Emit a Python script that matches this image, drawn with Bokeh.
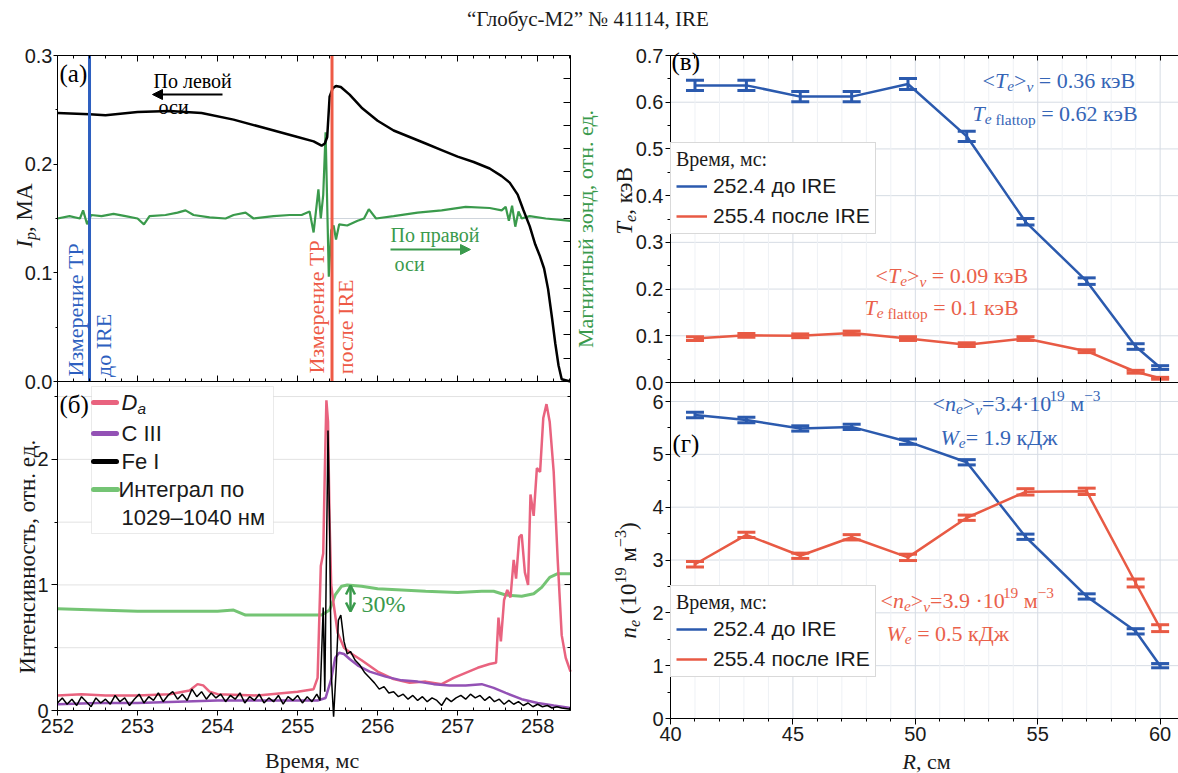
import math
from bokeh.plotting import figure
from bokeh.models import (Range1d, LinearAxis, FixedTicker, Label, Arrow, NormalHead, OpenHead,
                          TeeHead, Whisker, ColumnDataSource, BoxAnnotation, Legend, LegendItem,
                          PrintfTickFormatter, BasicTickFormatter)
from bokeh.layouts import column, row
from bokeh.embed import file_html
from bokeh.resources import INLINE

# ====================== DATA ======================
title_text = "“Глобус-М2”  № 41114, IRE"

# (a) plasma current I_p, MA
ip_time = [252.0, 252.4, 252.6, 253.0, 253.4, 253.8, 254.2, 254.6, 255.0, 255.2, 255.3, 255.34,
           255.37, 255.40, 255.44, 255.48, 255.54, 255.65, 255.8, 256.0, 256.2, 256.4, 256.6,
           256.8, 257.0, 257.2, 257.4, 257.55, 257.65, 257.75, 257.82, 257.9, 257.97, 258.03,
           258.08, 258.13, 258.18, 258.22, 258.26, 258.3, 258.41]
ip_val = [0.247, 0.246, 0.245, 0.248, 0.249, 0.247, 0.241, 0.233, 0.225, 0.221, 0.217, 0.219,
          0.225, 0.262, 0.270, 0.272, 0.271, 0.264, 0.252, 0.240, 0.231, 0.225, 0.219,
          0.213, 0.207, 0.202, 0.196, 0.189, 0.183, 0.172, 0.158, 0.143, 0.126, 0.115,
          0.104, 0.085, 0.058, 0.035, 0.015, 0.002, 0.000]

# (a) magnetic probe, rel. units
probe_time = [252.00, 252.15, 252.28, 252.32, 252.37, 252.42, 252.55, 252.70, 252.85, 253.00,
              253.08, 253.15, 253.35, 253.50, 253.60, 253.70, 253.90, 254.10, 254.20, 254.35,
              254.45, 254.70, 254.90, 255.05, 255.15, 255.20, 255.26, 255.29, 255.32, 255.35,
              255.39, 255.42, 255.45, 255.48, 255.52, 255.62, 255.75, 255.83, 255.89, 255.98,
              256.20, 256.50, 256.80, 257.10, 257.40, 257.55, 257.60, 257.64, 257.68, 257.72,
              257.76, 257.80, 257.90, 258.10, 258.41]
probe_val = [0.0, 0.1, 0.0, 0.35, -0.25, 0.15, 0.1, 0.2, 0.1, 0.0,
             -0.25, 0.1, 0.15, 0.25, 0.35, 0.15, 0.05, 0.0, 0.15, 0.25,
             0.0, 0.1, 0.15, 0.15, 0.3, -0.6, 1.25, 0.0, 1.0, 3.7,
             -2.5, -0.5, -0.3, -0.9, -0.25, -0.3, -0.1, 0.0, 0.4, 0.0,
             0.1, 0.25, 0.35, 0.5, 0.45, 0.35, 0.5, -0.1, 0.55, -0.35,
             0.3, 0.0, 0.1, 0.0, -0.1]

tr_times = [252.4, 255.43]          # Thomson measurement instants
tr_colors = ["#2d5fc0", "#ee5a46"]

# (b) spectral intensities, rel. units
da_time = [252.0, 252.3, 252.6, 253.0, 253.4, 253.65, 253.75, 253.82, 253.9, 254.0, 254.5,
           255.0, 255.2, 255.25, 255.29, 255.32, 255.34, 255.36, 255.38, 255.40, 255.42,
           255.45, 255.5, 255.58, 255.68, 255.8, 256.0, 256.2, 256.4, 256.6, 256.8, 256.95,
           257.1, 257.25, 257.4, 257.48, 257.51, 257.54, 257.58, 257.62, 257.66, 257.7,
           257.73, 257.77, 257.8, 257.84, 257.88, 257.91, 257.95, 257.99, 258.03, 258.07,
           258.11, 258.15, 258.2, 258.25, 258.3, 258.35, 258.41]
da_val = [0.12, 0.13, 0.12, 0.12, 0.13, 0.16, 0.21, 0.20, 0.15, 0.13, 0.12,
          0.15, 0.17, 0.26, 1.15, 1.25, 1.9, 2.47, 2.3, 1.5, 1.0,
          0.85, 0.62, 0.50, 0.45, 0.40, 0.31, 0.25, 0.22, 0.23, 0.21, 0.26,
          0.30, 0.34, 0.37, 0.38, 0.74, 0.55, 0.88, 0.96, 0.90, 1.2,
          1.05, 1.38, 1.4, 1.1, 1.0, 1.72, 1.55, 1.93, 1.9, 2.33,
          2.44, 2.3, 1.9, 1.2, 0.6, 0.42, 0.31]

c3_time = [252.0, 252.5, 253.0, 253.5, 254.0, 254.5, 255.0, 255.25, 255.35, 255.42, 255.47,
           255.52, 255.58, 255.65, 255.75, 255.9, 256.1, 256.3, 256.5, 256.7, 256.9, 257.1,
           257.3, 257.45, 257.6, 257.8, 258.0, 258.2, 258.41]
c3_val = [0.05, 0.06, 0.06, 0.07, 0.08, 0.08, 0.08, 0.08, 0.10, 0.25, 0.42,
          0.46, 0.45, 0.41, 0.36, 0.31, 0.27, 0.24, 0.23, 0.21, 0.20, 0.20,
          0.21, 0.18, 0.14, 0.09, 0.06, 0.04, 0.02]

fe_time = [252.00, 252.06, 252.12, 252.18, 252.24, 252.30, 252.36, 252.42, 252.48, 252.54,
           252.60, 252.66, 252.72, 252.78, 252.84, 252.90, 252.96, 253.02, 253.08, 253.14,
           253.20, 253.26, 253.32, 253.38, 253.44, 253.50, 253.56, 253.62, 253.68, 253.74,
           253.80, 253.86, 253.92, 253.98, 254.04, 254.10, 254.16, 254.22, 254.28, 254.34,
           254.40, 254.46, 254.52, 254.58, 254.64, 254.70, 254.76, 254.82, 254.88, 254.94,
           255.00, 255.06, 255.12, 255.18, 255.24, 255.28, 255.30, 255.32, 255.34, 255.36,
           255.38, 255.40, 255.42, 255.45, 255.48, 255.51, 255.54, 255.58, 255.62, 255.66,
           255.72, 255.78, 255.84, 255.90, 255.96, 256.02, 256.08, 256.14, 256.20, 256.26,
           256.32, 256.38, 256.44, 256.50, 256.56, 256.62, 256.68, 256.74, 256.80, 256.86,
           256.92, 256.98, 257.04, 257.10, 257.16, 257.22, 257.28, 257.34, 257.40, 257.46,
           257.52, 257.58, 257.64, 257.70, 257.76, 257.82, 257.88, 257.94, 258.00, 258.06,
           258.12, 258.18, 258.24, 258.30, 258.41]
fe_val = [0.06, 0.10, 0.05, 0.09, 0.04, 0.11, 0.07, 0.03, 0.10, 0.06,
          0.09, 0.05, 0.12, 0.07, 0.10, 0.04, 0.09, 0.13, 0.06, 0.11,
          0.08, 0.14, 0.07, 0.12, 0.15, 0.09, 0.13, 0.08, 0.17, 0.11,
          0.15, 0.09, 0.14, 0.10, 0.13, 0.07, 0.12, 0.09, 0.14, 0.06,
          0.11, 0.08, 0.13, 0.06, 0.10, 0.07, 0.12, 0.05, 0.11, 0.08,
          0.12, 0.06, 0.11, 0.07, 0.13, 0.08, 0.45, 0.82, 0.15, 1.2,
          2.23, 1.5, 0.3, -0.05, 0.3, 0.72, 0.76, 0.55, 0.45, 0.47,
          0.40, 0.36, 0.30, 0.26, 0.22, 0.17, 0.19, 0.14, 0.15, 0.11,
          0.13, 0.09, 0.12, 0.08, 0.11, 0.07, 0.10, 0.08, 0.04, 0.10,
          0.07, 0.10, 0.12, 0.09, 0.13, 0.10, 0.12, 0.08, 0.11, 0.07,
          0.09, 0.05, 0.08, 0.05, 0.07, 0.04, 0.06, 0.03, 0.05, 0.03,
          0.04, 0.02, 0.03, 0.02, 0.01]

int_time = [252.0, 252.5, 253.0, 253.5, 254.0, 254.2, 254.35, 254.6, 255.0, 255.3, 255.4,
            255.47, 255.55, 255.62, 255.8, 256.0, 256.3, 256.6, 257.0, 257.3, 257.45, 257.6,
            257.8, 257.95, 258.05, 258.15, 258.25, 258.41]
int_val = [0.81, 0.80, 0.79, 0.79, 0.79, 0.80, 0.76, 0.76, 0.76, 0.76, 0.80,
           0.92, 0.99, 1.00, 0.99, 0.97, 0.96, 0.95, 0.94, 0.95, 0.95, 0.92,
           0.91, 0.93, 0.98, 1.06, 1.09, 1.09]

# (v), (g) Thomson profiles
R_cm = [41.0, 43.1, 45.3, 47.4, 49.7, 52.1, 54.5, 57.0, 59.0, 60.0]
te_before = [0.636, 0.636, 0.612, 0.612, 0.639, 0.527, 0.344, 0.217, 0.077, 0.032]
te_before_err = [0.011, 0.011, 0.011, 0.011, 0.012, 0.011, 0.007, 0.007, 0.006, 0.004]
te_after = [0.094, 0.101, 0.100, 0.106, 0.094, 0.081, 0.094, 0.067, 0.023, 0.009]
te_after_err = [0.004, 0.004, 0.004, 0.004, 0.004, 0.004, 0.004, 0.003, 0.003, 0.002]
ne_before = [5.745, 5.65, 5.49, 5.52, 5.24, 4.85, 3.44, 2.31, 1.65, 1.00]
ne_before_err = [0.05, 0.05, 0.05, 0.05, 0.05, 0.05, 0.05, 0.05, 0.05, 0.04]
ne_after = [2.92, 3.475, 3.08, 3.43, 3.05, 3.80, 4.29, 4.30, 2.565, 1.71]
ne_after_err = [0.05, 0.05, 0.05, 0.05, 0.06, 0.05, 0.06, 0.06, 0.075, 0.065]
series_labels = ["252.4 до IRE", "255.4 после IRE"]

# tick values
t_major = [252, 253, 254, 255, 256, 257, 258]
t_minor = [round(252 + 0.2 * k, 1) for k in range(1, 33) if k % 5]
ip_major = [0.0, 0.1, 0.2, 0.3]
ip_minor = [0.05, 0.15, 0.25]
probe_ticks = list(range(-7, 8))
b_major = [0, 1, 2]
b_minor = [0.5, 1.5, 2.5]
te_major = [0.0, 0.1, 0.2, 0.3, 0.4, 0.5, 0.6, 0.7]
te_minor = [0.05, 0.15, 0.25, 0.35, 0.45, 0.55, 0.65]
ne_major = [0, 1, 2, 3, 4, 5, 6]
ne_minor = [0.5, 1.5, 2.5, 3.5, 4.5, 5.5]
r_major = [40, 45, 50, 55, 60]
r_minor = [k for k in range(41, 61) if k % 5]

# ====================== STYLE ======================
SERIF = "Liberation Serif"
SANS = "Liberation Sans"
BLUE = "#2b5aae"
RED = "#e85a44"
BLUE_TXT = "#3565b6"
RED_TXT = "#ea614b"
GREEN_D = "#3a9a4c"
GREEN_L = "#74c474"
PINK = "#e9637f"
PURPLE = "#9351b5"
INK = "#1a1a1a"
GRID = "#d6dce4"
GRID_MINOR = "#eef1f5"


def span_range(box_a, box_b, v_a, v_b, fig_a, fig_b):
    """Range whose values v_a..v_b fall on pixels box_a..box_b of a canvas fig_a..fig_b."""
    s = (box_b - box_a) / (v_b - v_a)
    return Range1d(v_a - (box_a - fig_a) / s, v_b + (fig_b - box_b) / s)


# left canvas: page x 0..600, y 45..773 ; right canvas: page x 600..1178, y 45..773
GL = dict(l=0, r=600, t=45, b=773)
GR = dict(l=600, r=1178, t=45, b=773)

XL = span_range(57, 570, 252.0, 258.41, 0, 600)
YL_b = span_range(773 - 710, 773 - 381, 0.0, 2.62, 0, 728)      # bottom-up pixels
YL_ip = span_range(773 - 381, 773 - 55, 0.0, 0.3, 0, 728)
YL_probe = span_range(773 - 381, 773 - 55, -7.0, 7.0, 0, 728)
XR = span_range(670, 1178, 40.0, 60.75, 600, 1178)
YR_ne = span_range(773 - 718, 773 - 382, 0.0, 6.36, 0, 728)
YR_te = span_range(773 - 382, 773 - 55, 0.0, 0.7, 0, 728)
GL["x"], GL["y"] = XL, YL_b
GR["x"], GR["y"] = XR, YR_ne


def at(G, X, Y):
    xr, yr = G["x"], G["y"]
    x = xr.start + (X - G["l"]) / (G["r"] - G["l"]) * (xr.end - xr.start)
    y = yr.end - (Y - G["t"]) / (G["b"] - G["t"]) * (yr.end - yr.start)
    return x, y


REG_W = {'0': .5, '1': .5, '2': .5, '3': .5, '4': .5, '5': .5, '6': .5, '7': .5, '8': .5, '9': .5,
         '.': .25, ',': .25, ' ': .25, '=': .564, '<': .564, '>': .564, '·': .25, '(': .333,
         ')': .333, '−': .564, '-': .333, '%': .833, '–': .5,
         'a': .444, 'c': .444, 'e': .444, 'f': .333, 'i': .278, 'l': .278, 'o': .5, 'p': .5,
         't': .278, 'v': .5, 'n': .5, 'r': .333,
         'A': .722, 'D': .722, 'E': .611, 'I': .333, 'R': .667, 'T': .611, 'W': .944, 'P': .556,
         'к': .5, 'э': .44, 'В': .667, 'Д': .69, 'ж': .72, 'м': .63, 'с': .444, 'А': .722,
         'М': .889, 'р': .5, 'е': .444, 'я': .5, 'о': .5, 'т': .45, 'н': .5, 'д': .5,
         'Т': .611, 'Р': .556, 'И': .722, 'з': .4, 'и': .5, 'п': .5, 'л': .5, 'г': .41,
         'ы': .7, 'й': .5, 'ь': .45, 'в': .47, 'ц': .5, 'а': .444, 'б': .5, 'ф': .65}
IT_W = {'T': .556, 'e': .444, 'v': .444, 'n': .5, 'p': .5, 'W': .833, 'I': .333, 'R': .611}
SANS_W = {'D': .722, 'a': .556}


def text_w(s, italic, font):
    if font == SANS:
        return sum(SANS_W.get(c, .556) for c in s)
    return sum((IT_W.get(c) if italic and c in IT_W else REG_W.get(c, .5)) for c in s)


def rich(p, G, X, Y, segs, size, color, font=SERIF, angle=0.0, align="left", bg=None):
    """segs: list of (text, italic, scale, rise_em). (X, Y): page pixels of the text centre line."""
    x, y = at(G, X, Y)
    widths = [text_w(t, it, font) * size * sc for (t, it, sc, rise) in segs]
    total = sum(widths)
    pos = {"left": 0.0, "center": -total / 2.0, "right": -total}[align]
    specs = []
    for (t, it, sc, rise), w in zip(segs, widths):
        lead = len(t) - len(t.lstrip(" "))
        along = pos + lead * 0.25 * size * sc
        perp = rise * size
        xo, yo = (along, perp) if angle == 0 else (-perp, along)
        specs.append((t.strip(" "), it, sc, xo, yo))
        pos += w
    for bgpass in ([True] if bg else []) + [False]:
        for (t, it, sc, xo, yo) in specs:
            if not t:
                continue
            lab = Label(x=x, y=y, x_offset=xo, y_offset=yo, text=t, text_font=font,
                        text_font_size=f"{size * sc:.1f}px",
                        text_font_style="italic" if it else "normal",
                        text_color=color, text_align="left", text_baseline="middle",
                        angle=angle)
            if bgpass:
                lab.text_alpha = 0
                lab.background_fill_color = bg
                lab.background_fill_alpha = 1
            p.add_layout(lab)


def seg(t, it=False, sc=1.0, rise=0.0):
    return (t, it, sc, rise)


SUB = -0.25
SUP = 0.33


def axis(p, side, fixed, bounds, majors, minors, labels=True, maj=(0, 5), mnr=(0, 3),
         standoff=3, fmt=None, **rn):
    """maj/mnr = (tick_in, tick_out)."""
    def common(a):
        a.axis_line_color = "black"
        a.major_tick_line_color = "black"
        a.minor_tick_line_color = "black"
        a.major_label_text_font = SANS
        a.major_label_text_font_size = "20px"
        a.major_label_text_color = INK
        a.major_label_standoff = standoff
    if labels:
        a = LinearAxis(fixed_location=fixed, bounds=bounds,
                       ticker=FixedTicker(ticks=majors, minor_ticks=minors),
                       formatter=fmt or BasicTickFormatter(), **rn)
        common(a)
        a.major_tick_in, a.major_tick_out = maj
        a.minor_tick_in, a.minor_tick_out = mnr
        p.add_layout(a, side)
    else:
        for k, (tk, ln) in enumerate([(majors, maj), (minors, mnr)]):
            a = LinearAxis(fixed_location=fixed, bounds=bounds,
                           ticker=FixedTicker(ticks=[], minor_ticks=tk), **rn)
            common(a)
            a.major_tick_in, a.major_tick_out = 0, 0
            a.minor_tick_in, a.minor_tick_out = ln
            if k:
                a.axis_line_color = None
            p.add_layout(a, side)


def canvas(w, h, xr, yr):
    p = figure(width=w, height=h, x_range=xr, y_range=yr, output_backend="svg",
               toolbar_location=None, x_axis_location=None, y_axis_location=None,
               min_border=0)
    p.outline_line_color = None
    p.background_fill_color = "white"
    p.border_fill_color = "white"
    p.grid.visible = False
    return p


def gridlines(p, xs0, xs1, ys, color, **rn):
    r = p.segment(x0=[xs0] * len(ys), x1=[xs1] * len(ys), y0=ys, y1=ys, line_color=color,
                  line_width=1, **rn)
    r.level = "underlay"


def vgridlines(p, xs, y0, y1, color, **rn):
    r = p.segment(x0=xs, x1=xs, y0=[y0] * len(xs), y1=[y1] * len(xs), line_color=color,
                  line_width=1, **rn)
    r.level = "underlay"


A90 = math.pi / 2
ONE_DEC = PrintfTickFormatter(format="%.1f")

# ====================== HEADER ======================
header = figure(width=1178, height=45, x_range=Range1d(0, 1178), y_range=Range1d(0, 45),
                output_backend="svg", toolbar_location=None, min_border=0,
                x_axis_location=None, y_axis_location=None)
header.grid.visible = False
header.outline_line_color = None
header.add_layout(Label(x=590, y=27, text=title_text, text_font=SERIF, text_font_size="21px",
                        text_align="center", text_baseline="middle", text_color=INK))

# ====================== LEFT: (a) + (b) ======================
T0, T1 = t_major[0], 258.41
pl = canvas(600, 728, XL, YL_b)
pl.extra_y_ranges = {"ip": YL_ip, "probe": YL_probe}

# (b) grid + legend box
gridlines(pl, T0, T1, [0.5, 1.0, 1.5, 2.0, 2.5], "#e2e2e2")
bl, bt = at(GL, 91, 386)
br, bb = at(GL, 273, 533)
pl.add_layout(BoxAnnotation(left=bl, right=br, top=bt, bottom=bb, fill_color="white",
                            fill_alpha=1, line_color="#b8b8b8", line_width=1, level="underlay"))
# (a) probe zero reference line
pz = pl.segment(x0=[T0], x1=[T1], y0=[0], y1=[0], y_range_name="probe", line_color="#cfd5dc",
                line_width=1)
pz.level = "underlay"

# (a) curves
pl.line(probe_time, probe_val, y_range_name="probe", line_color=GREEN_D, line_width=2.2)
pl.line(ip_time, ip_val, y_range_name="ip", line_color="black", line_width=2.5)
pl.segment(x0=tr_times, x1=tr_times, y0=[ip_major[0]] * 2, y1=[ip_major[-1]] * 2,
           y_range_name="ip", line_color=tr_colors, line_width=3)

# (b) curves
pl.line(int_time, int_val, line_color=GREEN_L, line_width=3)
pl.line(da_time, da_val, line_color=PINK, line_width=2.5)
pl.line(c3_time, c3_val, line_color=PURPLE, line_width=2.5)
pl.line(fe_time, fe_val, line_color="black", line_width=1.5)

# frames
pl.add_layout(BoxAnnotation(left=T0, right=T1, bottom=0, top=0.3, y_range_name="ip",
                            fill_color=None, fill_alpha=0, line_color="black", line_width=1))
pl.add_layout(BoxAnnotation(left=T0, right=T1, bottom=0, top=2.62,
                            fill_color=None, fill_alpha=0, line_color="black", line_width=1))

# axes (a)
axis(pl, "left", T0, (0, 0.3), ip_major, ip_minor, maj=(0, 4), mnr=(0, 2), standoff=1,
     fmt=ONE_DEC, y_range_name="ip")
axis(pl, "below", 0, (T0, T1), t_major, t_minor, labels=False, maj=(6, 0), mnr=(3, 0),
     y_range_name="ip")
axis(pl, "above", 0.3, (T0, T1), t_major, t_minor, labels=False, maj=(6, 0), mnr=(3, 0),
     y_range_name="ip")
axis(pl, "right", T1, (-7, 7), probe_ticks, [], labels=False, maj=(7, 0), mnr=(0, 0),
     y_range_name="probe")
# axes (b)
axis(pl, "left", T0, (0, 2.62), b_major, b_minor, maj=(0, 6), mnr=(0, 3), standoff=3)
axis(pl, "below", 0, (T0, T1), t_major, t_minor, maj=(0, 5), mnr=(3, 0), standoff=3)
axis(pl, "right", T1, (0, 2.62), b_major, b_minor, labels=False, maj=(6, 0), mnr=(3, 0))

# (a) annotations
rich(pl, GL, 59, 73, [seg("(a)")], 25, "black")
rich(pl, GL, 153, 80, [seg("По левой")], 20, "black")
rich(pl, GL, 158, 106, [seg("оси")], 20, "black")
xs, ys = at(GL, 222, 94)
xe, ye = at(GL, 152, 94)
pl.add_layout(Arrow(x_start=xs, y_start=ys, x_end=xe, y_end=ye, line_color="black", line_width=2,
                    end=NormalHead(size=10, fill_color="black", line_color="black")))
rich(pl, GL, 390, 234, [seg("По правой")], 20, GREEN_D)
rich(pl, GL, 394, 263, [seg("оси")], 20, GREEN_D)
xs, ys = at(GL, 390, 249)
xe, ye = at(GL, 470, 249)
pl.add_layout(Arrow(x_start=xs, y_start=ys, x_end=xe, y_end=ye, line_color=GREEN_D, line_width=2,
                    end=NormalHead(size=10, fill_color=GREEN_D, line_color=GREEN_D)))
rich(pl, GL, 75, 310, [seg("Измерение ТР")], 22, tr_colors[0], angle=A90, align="center")
rich(pl, GL, 103, 345, [seg("до IRE")], 22, tr_colors[0], angle=A90, align="center")
rich(pl, GL, 316, 307, [seg("Измерение ТР")], 22, tr_colors[1], angle=A90, align="center")
rich(pl, GL, 345, 327, [seg("после IRE")], 22, tr_colors[1], angle=A90, align="center")
rich(pl, GL, 24, 215, [seg("I", True), seg("p", True, 0.7, SUB), seg(", МА")], 23, INK,
     angle=A90, align="center")
rich(pl, GL, 585, 230, [seg("Магнитный зонд, отн. ед.")], 22, GREEN_D, angle=A90, align="center")

# (b) legend + annotations
leg_rows = [(402, PINK, [seg("D", True), seg("a", True, 0.7, SUB)]),
            (433, PURPLE, [seg("C III")]),
            (461, "black", [seg("Fe I")]),
            (489, GREEN_L, [seg("Интеграл по")]),
            (517, None, [seg("1029–1040 нм")])]
for Yr, col, segs_ in leg_rows:
    if col is not None:
        x1_, y1_ = at(GL, 93, Yr)
        x2_, _ = at(GL, 116 if col != GREEN_L else 117, Yr)
        pl.segment(x0=[x1_], y0=[y1_], x1=[x2_], y1=[y1_], line_color=col, line_width=5,
                   line_cap="round")
    rich(pl, GL, 121 if col != GREEN_L else 118, Yr, segs_, 22, INK, font=SANS)

rich(pl, GL, 59, 404, [seg("(б)")], 25, "black")
xa, ya0 = at(GL, 350, 611)
_, ya1 = at(GL, 350, 585)
pl.add_layout(Arrow(x_start=xa, y_start=ya0, x_end=xa, y_end=ya1, line_color=GREEN_D,
                    line_width=2.5, start=OpenHead(size=9, line_color=GREEN_D, line_width=2.5),
                    end=OpenHead(size=9, line_color=GREEN_D, line_width=2.5)))
rich(pl, GL, 361, 603, [seg("30%")], 24, GREEN_D)
rich(pl, GL, 27, 558, [seg("Интенсивность, отн. ед.")], 23, INK, angle=A90, align="center")
rich(pl, GL, 312, 760, [seg("Время, мс")], 22, INK, align="center")

# ====================== RIGHT: (v) + (g) ======================
R0, R1 = r_major[0], 60.75
pr = canvas(578, 728, XR, YR_ne)
pr.extra_y_ranges = {"te": YR_te}

# grids
gridlines(pr, R0, R1, te_major[1:-1], GRID, y_range_name="te")
vgridlines(pr, r_minor, 0, 0.7, GRID_MINOR, y_range_name="te")
vgridlines(pr, r_major[1:], 0, 0.7, GRID, y_range_name="te")
gridlines(pr, R0, R1, ne_major[1:], GRID)
vgridlines(pr, r_minor, 0, 6.36, GRID_MINOR)
vgridlines(pr, r_major[1:], 0, 6.36, GRID)


def profile(p, vals, errs, color, capsz, **rn):
    src = ColumnDataSource(dict(R=R_cm, v=vals, lo=[v - e for v, e in zip(vals, errs)],
                                hi=[v + e for v, e in zip(vals, errs)]))
    p.add_layout(Whisker(source=src, base="R", upper="hi", lower="lo", line_color=color,
                         line_width=3, level="glyph",
                         upper_head=TeeHead(size=capsz, line_color=color, line_width=3),
                         lower_head=TeeHead(size=capsz, line_color=color, line_width=3), **rn))
    return p.line("R", "v", source=src, line_color=color, line_width=2.5, **rn)


rcb = profile(pr, te_before, te_before_err, BLUE, 18, y_range_name="te")
rcr = profile(pr, te_after, te_after_err, RED, 18, y_range_name="te")
rdb = profile(pr, ne_before, ne_before_err, BLUE, 18)
rdr = profile(pr, ne_after, ne_after_err, RED, 18)

pr.add_layout(BoxAnnotation(left=R0, right=R1, bottom=0, top=0.7, y_range_name="te",
                            fill_color=None, fill_alpha=0, line_color="black", line_width=1))
pr.add_layout(BoxAnnotation(left=R0, right=R1, bottom=0, top=6.36,
                            fill_color=None, fill_alpha=0, line_color="black", line_width=1))

axis(pr, "left", R0, (0, 0.7), te_major, te_minor, maj=(0, 5), mnr=(0, 3), standoff=2,
     fmt=ONE_DEC, y_range_name="te")
axis(pr, "below", 0, (R0, R1), r_major, r_minor, labels=False, maj=(5, 0), mnr=(3, 0),
     y_range_name="te")
axis(pr, "above", 0.7, (R0, R1), r_major, r_minor, labels=False, maj=(5, 0), mnr=(3, 0),
     y_range_name="te")
axis(pr, "left", R0, (0, 6.36), ne_major, ne_minor, maj=(0, 5), mnr=(0, 3), standoff=2)
axis(pr, "below", 0, (R0, R1), r_major, r_minor, maj=(0, 6), mnr=(0, 3), standoff=2)


def mklegend(p, rb, rr, loc):
    leg = Legend(items=[LegendItem(label=series_labels[0], renderers=[rb]),
                        LegendItem(label=series_labels[1], renderers=[rr])],
                 location=loc, title="Время, мс:", margin=0, padding=5, spacing=6,
                 glyph_width=31, glyph_height=22, label_height=22, label_standoff=6,
                 title_standoff=3, border_line_color="#b3b3b3", border_line_width=1,
                 background_fill_color="white", background_fill_alpha=1,
                 label_text_font=SANS, label_text_font_size="21px", label_text_color=INK,
                 title_text_font=SERIF, title_text_font_size="20px",
                 title_text_font_style="normal", title_text_color=INK)
    p.add_layout(leg)


mklegend(pr, rcb, rcr, (70, 773 - 234))
mklegend(pr, rdb, rdr, (70, 773 - 677))

rich(pr, GR, 671, 61, [seg("(в)")], 25, "black", bg="white")
rich(pr, GR, 982, 80, [seg("<"), seg("T", True), seg("e", True, 0.7, SUB), seg(">"),
                       seg("v", True, 0.7, SUB), seg(" = 0.36 кэВ")], 22, BLUE_TXT, bg="white")
rich(pr, GR, 972, 113, [seg("T", True), seg("e", True, 0.7, SUB), seg(" flattop", False, 0.7, SUB),
                        seg(" = 0.62 кэВ")], 22, BLUE_TXT, bg="white")
rich(pr, GR, 875, 275, [seg("<"), seg("T", True), seg("e", True, 0.7, SUB), seg(">"),
                        seg("v", True, 0.7, SUB), seg(" = 0.09 кэВ")], 22, RED_TXT, bg="white")
rich(pr, GR, 864, 307, [seg("T", True), seg("e", True, 0.7, SUB), seg(" flattop", False, 0.7, SUB),
                        seg(" = 0.1 кэВ")], 22, RED_TXT, bg="white")
rich(pr, GR, 624, 200, [seg("T", True), seg("e", True, 0.7, SUB), seg(", кэВ")], 23, INK,
     angle=A90, align="center")

rich(pr, GR, 672, 443, [seg("(г)")], 25, "black", bg="white")
rich(pr, GR, 932, 403, [seg("<"), seg("n", True), seg("e", True, 0.7, SUB), seg(">"),
                        seg("v", True, 0.7, SUB), seg("=3.4·10"), seg("19", False, 0.7, SUP),
                        seg(" м"), seg("−3", False, 0.7, SUP)], 22, BLUE_TXT, bg="white")
rich(pr, GR, 940, 437, [seg("W", True), seg("e", True, 0.7, SUB), seg("= 1.9 кДж")], 22,
     BLUE_TXT, bg="white")
rich(pr, GR, 880, 600, [seg("<"), seg("n", True), seg("e", True, 0.7, SUB), seg(">"),
                        seg("v", True, 0.7, SUB), seg("=3.9 ·10"), seg("19", False, 0.7, SUP),
                        seg(" м"), seg("−3", False, 0.7, SUP)], 22, RED_TXT, bg="white")
rich(pr, GR, 886, 633, [seg("W", True), seg("e", True, 0.7, SUB), seg(" = 0.5 кДж")], 22,
     RED_TXT, bg="white")
rich(pr, GR, 628, 580, [seg("n", True), seg("e", True, 0.7, SUB), seg(" (10"),
                        seg("19", False, 0.7, SUP), seg(" м"), seg("−3", False, 0.7, SUP),
                        seg(")")], 23, INK, angle=A90, align="center")
rich(pr, GR, 926, 761, [seg("R", True), seg(", см")], 22, INK, align="center")

# ====================== LAYOUT ======================
layout = column(header, row(pl, pr))
with open("out.html", "w") as f:
    f.write(file_html(layout, INLINE))
